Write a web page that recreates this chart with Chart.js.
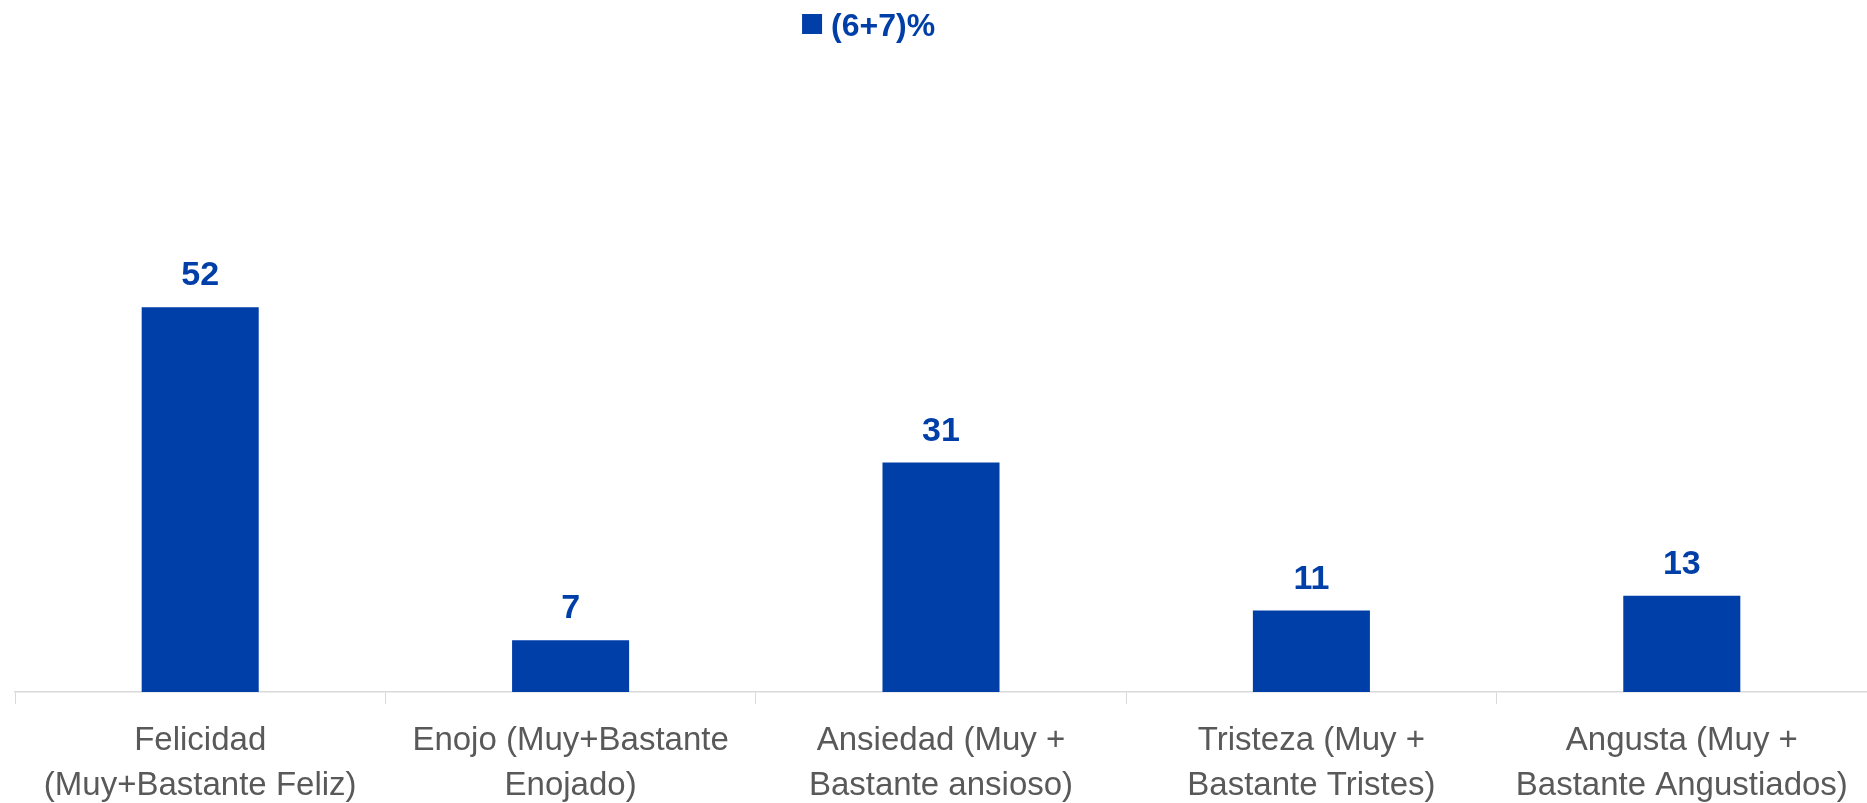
<!DOCTYPE html>
<html>
<head>
<meta charset="utf-8">
<script src="https://cdn.jsdelivr.net/npm/chart.js@4/dist/chart.umd.min.js"></script>
<style>
  html, body { margin: 0; padding: 0; background: #fff; }
  #wrap { width: 1867px; height: 803px; }
</style>
</head>
<body>
<div id="wrap"><canvas id="bar-chart"></canvas></div>
<script>
// data
var categories = [
    ["Felicidad", "(Muy+Bastante Feliz)"],
    ["Enojo (Muy+Bastante", "Enojado)"],
    ["Ansiedad (Muy +", "Bastante ansioso)"],
    ["Tristeza (Muy +", "Bastante Tristes)"],
    ["Angusta (Muy +", "Bastante Angustiados)"]
];
var seriesName = "(6+7)%";
var values = [52, 7, 31, 11, 13];

var blue = "#003EA8";
var fontFamily = "'Liberation Sans', Arial, sans-serif";

// value labels above each bar
var valueLabels = {
    id: "valueLabels",
    afterDatasetsDraw: function (chart) {
        var ctx = chart.ctx;
        var meta = chart.getDatasetMeta(0);
        ctx.save();
        ctx.fillStyle = blue;
        ctx.font = "bold 34px " + fontFamily;
        ctx.textAlign = "center";
        ctx.textBaseline = "alphabetic";
        meta.data.forEach(function (bar, i) {
            ctx.fillText(values[i], bar.x, bar.y - 22);
        });
        ctx.restore();
    }
};

// legend sits a bit left of centre, like in the original
var topLegend = {
    id: "topLegend",
    afterDraw: function (chart) {
        var ctx = chart.ctx;
        var x = chart.width * 0.4296;
        ctx.save();
        ctx.fillStyle = blue;
        ctx.fillRect(x, 14, 20, 20);
        ctx.font = "bold 32px " + fontFamily;
        ctx.textAlign = "left";
        ctx.textBaseline = "alphabetic";
        ctx.fillText(seriesName, x + 29, 36);
        ctx.restore();
    }
};

var ctx = document.getElementById("bar-chart");
var barChart = new Chart(ctx, {
    type: 'bar',
    data: {
        labels: categories,
        datasets: [{
            label: seriesName,
            data: values,
            backgroundColor: blue,
            borderWidth: 0,
            barPercentage: 0.316,
            categoryPercentage: 1
        }]
    },
    options: {
        responsive: true,
        maintainAspectRatio: false,
        animation: false,
        layout: {
            padding: { left: 15, right: 0, top: 248, bottom: -19 }
        },
        plugins: {
            legend: { display: false },
            tooltip: { enabled: false }
        },
        scales: {
            x: {
                grid: {
                    offset: true,
                    drawOnChartArea: false,
                    drawTicks: true,
                    tickLength: 12,
                    color: '#d9d9d9'
                },
                border: { color: '#d9d9d9', width: 1.5 },
                ticks: {
                    color: '#595959',
                    font: { family: fontFamily, size: 33, lineHeight: 1.364 },
                    padding: 14,
                    maxRotation: 0,
                    autoSkip: false
                }
            },
            y: {
                display: false,
                min: 0,
                max: 60
            }
        }
    },
    plugins: [valueLabels, topLegend]
});
</script>
</body>
</html>
